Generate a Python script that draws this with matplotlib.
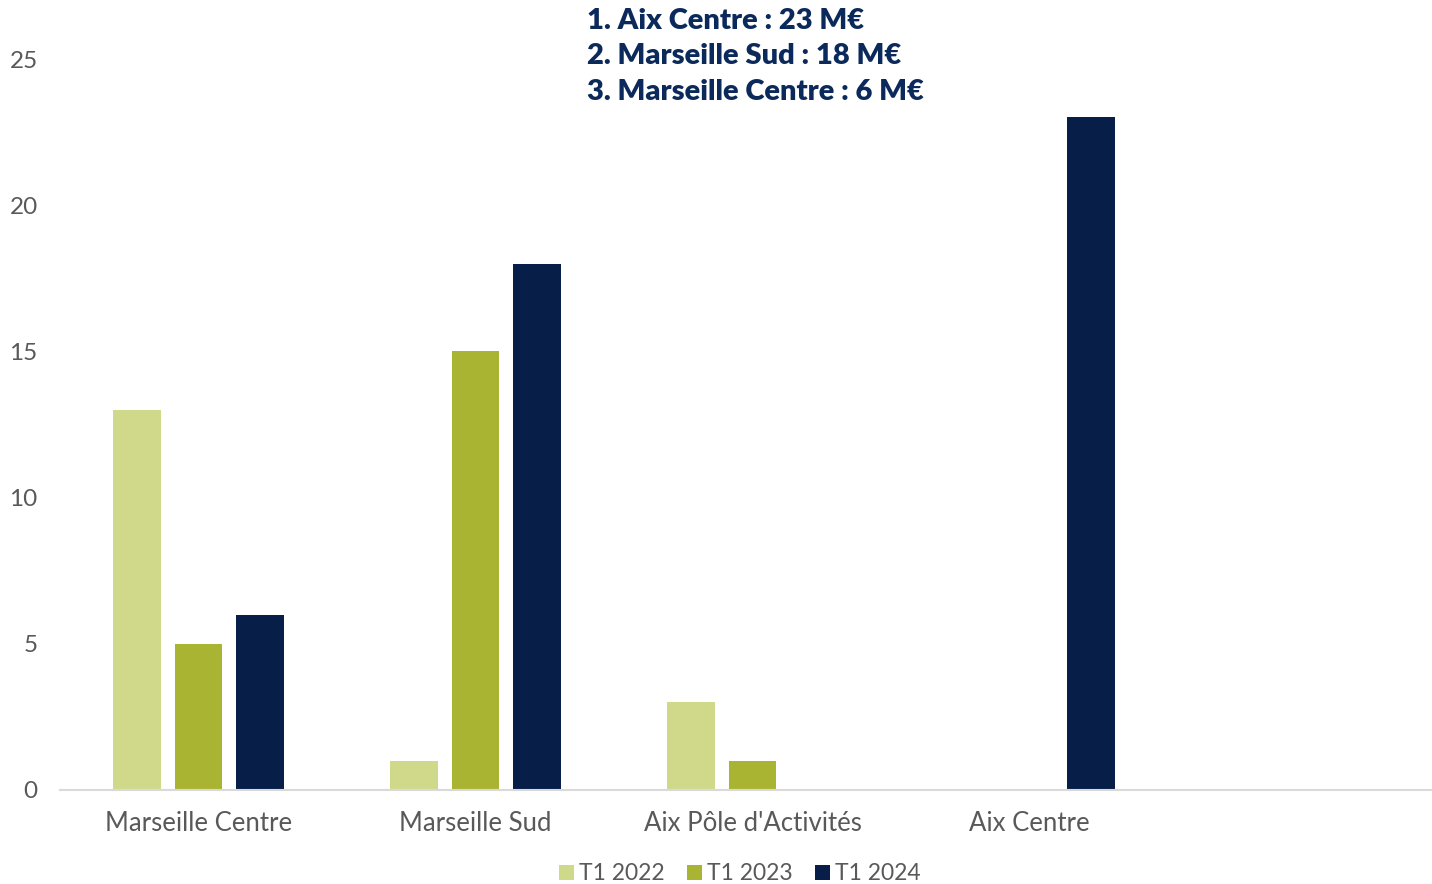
import matplotlib
matplotlib.use("Agg")
import matplotlib.pyplot as plt
import numpy as np

plt.rcParams['font.family'] = ['Lato', 'DejaVu Sans']

# montants par secteur (M€)
secteurs = ["Marseille Centre", "Marseille Sud", "Aix Pôle d'Activités", "Aix Centre", ""]
t1_2022 = [13, 1, 3, 0, 0]
t1_2023 = [5, 15, 1, 0, 0]
t1_2024 = [6, 18, 0, 23, 0]
series = ["T1 2022", "T1 2023", "T1 2024"]
couleurs = ["#D0D98A", "#AAB433", "#061E48"]
classement = ["1. Aix Centre : 23 M€", "2. Marseille Sud : 18 M€", "3. Marseille Centre : 6 M€"]

gris = "#595959"

fig = plt.figure(figsize=(14.32, 8.84), dpi=100)
ax = fig.add_axes([60/1432, 1 - 790/884, 1 - 60/1432, (790 - 59)/884])

x = np.arange(len(secteurs))
w = 0.173
for i, (vals, lab, c) in enumerate(zip([t1_2022, t1_2023, t1_2024], series, couleurs)):
    ax.bar(x + (i - 1) * 0.222, vals, width=w, color=c, label=lab)

ax.set_xlim(-0.5, 4.453)
ax.set_ylim(0, 25)
ax.set_yticks([0, 5, 10, 15, 20, 25])
ax.set_xticks(x)
ax.set_xticklabels(secteurs)
ax.tick_params(axis='both', length=0, labelsize=17.5, labelcolor=gris)
ax.tick_params(axis='y', pad=16)
ax.tick_params(axis='x', pad=15, labelsize=18.5)
for s in ['top', 'right', 'left']:
    ax.spines[s].set_visible(False)
ax.spines['bottom'].set_color("#D9D9D9")
ax.spines['bottom'].set_linewidth(1.5)

# classement en haut du graphique, une ligne par texte
for k, ligne in enumerate(classement):
    fig.text(587/1432, 1 - (21 + 35.5 * k)/884, ligne, ha='left', va='center',
             fontsize=21, fontweight='heavy', color="#0B2A5B")

leg = fig.legend(loc='center', bbox_to_anchor=(740/1432, 1 - 874/884), ncol=3,
                 frameon=False, fontsize=16.5, handlelength=0.65, handleheight=0.65,
                 handletextpad=0.2, columnspacing=1.0)
for t in leg.get_texts():
    t.set_color(gris)

fig.savefig("out.png", dpi=100)
